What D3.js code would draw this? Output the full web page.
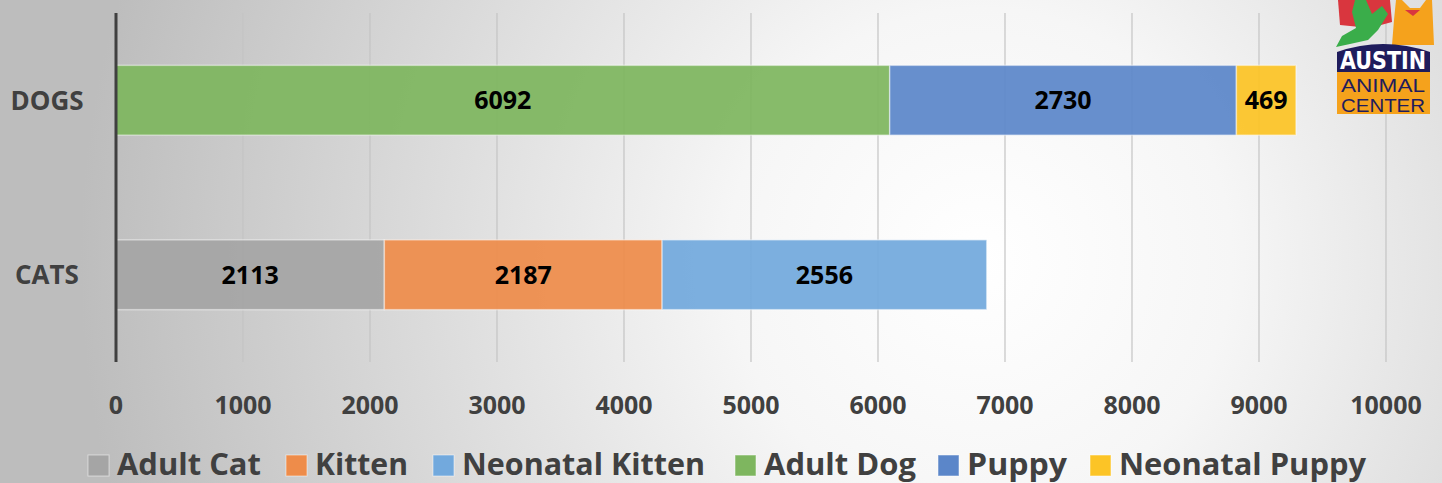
<!DOCTYPE html>
<html><head><meta charset="utf-8">
<script src="https://cdn.jsdelivr.net/npm/d3@7"></script>
<style>html,body{margin:0;padding:0;overflow:hidden;}svg{display:block;}</style>
</head><body>
<svg id="c" width="1442" height="483"></svg>
<script>
const categories = ["DOGS", "CATS"];
const seriesNames = ["Adult Cat", "Kitten", "Neonatal Kitten", "Adult Dog", "Puppy", "Neonatal Puppy"];
const seriesColors = ["#a5a5a5", "#ee8c4a", "#72a9dd", "#7eb65f", "#5b86c9", "#fcc426"];
const dogValues = [0, 0, 0, 6092, 2730, 469];
const catValues = [2113, 2187, 2556, 0, 0, 0];
const xTicks = [0, 1000, 2000, 3000, 4000, 5000, 6000, 7000, 8000, 9000, 10000];

const W = 1442, H = 483;
const FONT = "'Open Sans', Lato, sans-serif";
const svg = d3.select("#c");
const defs = svg.append("defs");
const rg = defs.append("radialGradient").attr("id","bg").attr("gradientUnits","userSpaceOnUse")
  .attr("cx", 980).attr("cy", 260).attr("r", 900);
rg.append("stop").attr("offset","0%").attr("stop-color","#ffffff");
rg.append("stop").attr("offset","28%").attr("stop-color","#f6f6f6");
rg.append("stop").attr("offset","100%").attr("stop-color","#bdbdbd");
svg.append("rect").attr("width",W).attr("height",H).attr("fill","url(#bg)");

const x = d3.scaleLinear().domain([0, 10000]).range([116, 1386]);
const y = d3.scaleBand().domain(categories).range([13, 362]).paddingInner(0.6).paddingOuter(0.3);

// gridlines
svg.append("g").selectAll("line").data(xTicks.slice(1)).join("line")
  .attr("x1", d=>x(d)).attr("x2", d=>x(d)).attr("y1", 13).attr("y2", 362)
  .attr("stroke", "#c4c4c4").attr("stroke-width", 1.2);

const rows = [{cat:"DOGS", vals:dogValues},{cat:"CATS", vals:catValues}];
const segs = [];
rows.forEach(r => {
  let acc = 0;
  r.vals.forEach((v,i) => { if (v>0){ segs.push({cat:r.cat, x0:acc, x1:acc+v, v, i}); acc += v; } });
});
const g = svg.append("g");
g.selectAll("rect").data(segs).join("rect")
  .attr("x", d=>x(d.x0)).attr("width", d=>x(d.x1)-x(d.x0))
  .attr("y", d=>y(d.cat)).attr("height", y.bandwidth())
  .attr("fill", d=>seriesColors[d.i]).attr("fill-opacity", 0.93)
  .attr("stroke", "#ffffff").attr("stroke-opacity", 0.45).attr("stroke-width", 1.5);
g.selectAll("text").data(segs).join("text")
  .attr("x", d=>(x(d.x0)+x(d.x1))/2).attr("y", d=>y(d.cat)+y.bandwidth()/2)
  .attr("dy","0.36em").attr("text-anchor","middle")
  .attr("font-family",FONT).attr("font-weight","bold")
  .attr("font-size", 25).attr("fill","#000").text(d=>d.v);

// y axis line
svg.append("line").attr("x1",116).attr("x2",116).attr("y1",13).attr("y2",362)
  .attr("stroke","#404040").attr("stroke-width",3);

// category labels
svg.append("g").selectAll("text").data(categories).join("text")
  .attr("x", 47).attr("y", d=>y(d)+y.bandwidth()/2).attr("dy","0.36em")
  .attr("text-anchor","middle").attr("font-family",FONT)
  .attr("font-weight","bold").attr("font-size",26).attr("fill","#404040").text(d=>d);

// x tick labels
svg.append("g").selectAll("text").data(xTicks).join("text")
  .attr("x", d=>x(d)).attr("y", 405).attr("dy","0.36em").attr("text-anchor","middle")
  .attr("font-family",FONT).attr("font-weight","bold")
  .attr("font-size",25).attr("fill","#404040").text(d=>d);

// legend
const legendStarts = [88, 286, 433, 735, 938, 1090];
const legendWidths = [144, 93, 243, 152, 100, 247];
const lg = svg.append("g");
seriesNames.forEach((n,i) => {
  lg.append("rect").attr("x", legendStarts[i]).attr("y", 455).attr("width", 21).attr("height", 21)
    .attr("fill", seriesColors[i]).attr("stroke","#ffffff").attr("stroke-opacity",0.5);
  lg.append("text").attr("x", legendStarts[i]+29).attr("y", 475)
    .attr("font-family",FONT).attr("font-weight","bold")
    .attr("font-size",30).attr("fill","#404040")
    .attr("textLength", legendWidths[i]).attr("lengthAdjust","spacingAndGlyphs").text(n);
});

// logo
const logo = svg.append("g");
logo.append("path").attr("d","M1338,0 L1390,0 L1392,22 L1370,28 L1340,25 Z").attr("fill","#d9363e");
logo.append("path").attr("d","M1355,0 L1366,0 L1372,14 L1382,6 L1388,14 L1378,30 L1368,40 L1350,44 L1336,47 L1342,36 L1356,28 L1352,12 Z").attr("fill","#3aad4a");
logo.append("path").attr("d","M1396,0 L1402,0 L1410,8 L1420,8 L1426,0 L1432,0 L1434,45 L1392,45 L1394,20 Z").attr("fill","#f5a21c");
logo.append("path").attr("d","M1405,10 L1420,10 L1413,16 Z").attr("fill","#d9363e");
logo.append("path").attr("d","M1337,72 L1337,52 Q1383,36 1430,52 L1430,72 Z").attr("fill","#1f1c5c");
logo.append("rect").attr("x",1337).attr("y",72).attr("width",93).attr("height",42).attr("fill","#f5a21c");
logo.append("text").attr("x",1383).attr("y",69).attr("text-anchor","middle")
  .attr("font-family","'DejaVu Sans Condensed', 'Liberation Sans Narrow', sans-serif").attr("font-weight","bold")
  .attr("font-size",24).attr("fill","#fff").attr("textLength",86).attr("lengthAdjust","spacingAndGlyphs").text("AUSTIN");
logo.append("text").attr("x",1383).attr("y",92).attr("text-anchor","middle")
  .attr("font-family","'Liberation Sans Narrow', sans-serif")
  .attr("font-size",19).attr("fill","#1f1c5c").attr("textLength",84).attr("lengthAdjust","spacingAndGlyphs").text("ANIMAL");
logo.append("text").attr("x",1383).attr("y",112).attr("text-anchor","middle")
  .attr("font-family","'Liberation Sans Narrow', sans-serif")
  .attr("font-size",19).attr("fill","#1f1c5c").attr("textLength",84).attr("lengthAdjust","spacingAndGlyphs").text("CENTER");
</script>
</body></html>
